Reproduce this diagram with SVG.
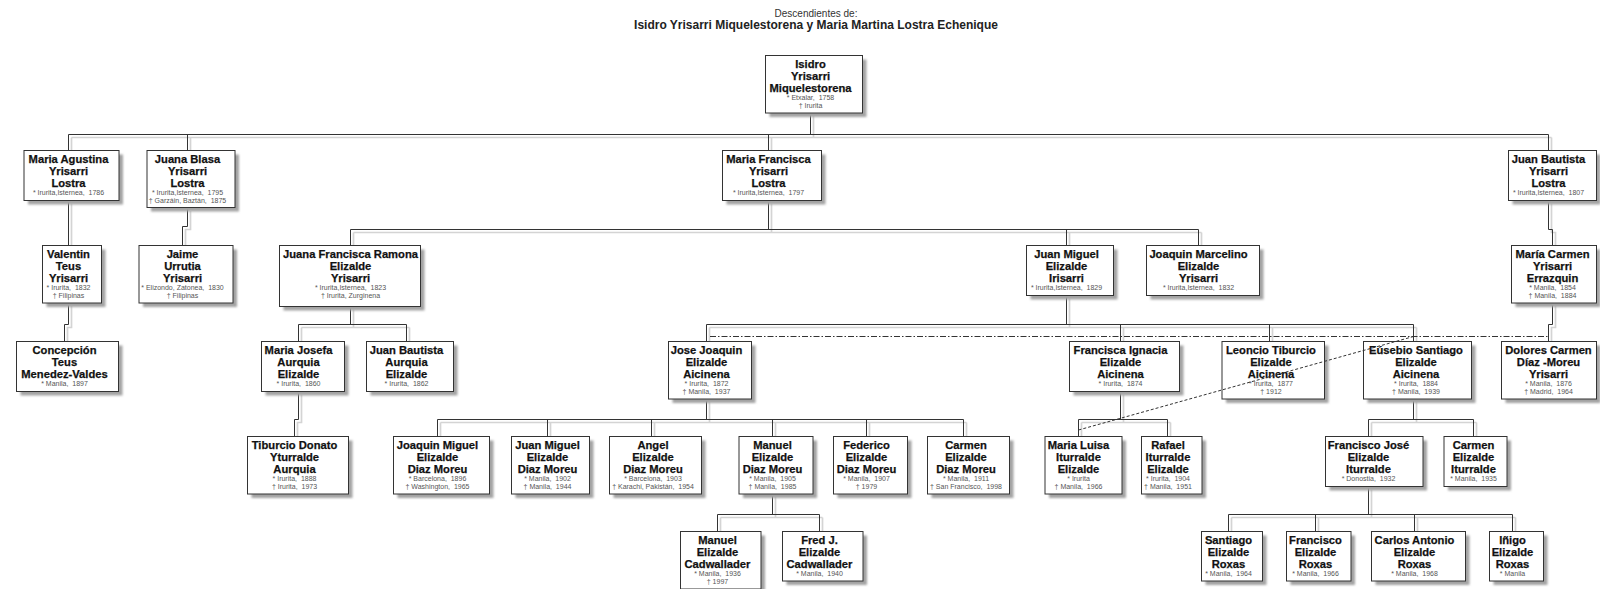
<svg xmlns="http://www.w3.org/2000/svg" width="1600" height="589" viewBox="0 0 1600 589">
<defs>
<filter id="blur" x="-10%" y="-10%" width="120%" height="120%"><feGaussianBlur stdDeviation="0.8"/></filter>
</defs>
<style>
.sh{fill:#a3a3a3;filter:url(#blur)}
.bx{fill:#fff;stroke:#333;stroke-width:1}
.n{font-family:"Liberation Sans",Arial,sans-serif;font-weight:bold;font-size:11.2px;fill:#111;stroke:#111;stroke-width:0.25;text-anchor:middle}
.s{font-family:"Liberation Sans",Arial,sans-serif;font-size:7px;fill:#555;text-anchor:middle}
.c{fill:none;stroke:#333;stroke-width:1}
.cs{fill:none;stroke:#d4d4d4;stroke-width:1.7}
.dd{fill:none;stroke:#333;stroke-width:1;stroke-dasharray:6 2 1.5 2}
.ds{fill:none;stroke:#333;stroke-width:1;stroke-dasharray:3 2}
.t1{font-family:"Liberation Sans",Arial,sans-serif;font-size:10px;fill:#333;text-anchor:middle}
.t2{font-family:"Liberation Sans",Arial,sans-serif;font-weight:bold;font-size:12px;fill:#222;text-anchor:middle}
</style>
<rect width="1600" height="589" fill="#fff"/>
<g id="title">
<text class="t1" x="816" y="16.5">Descendientes de:</text>
<text class="t2" x="816" y="28.7">Isidro Yrisarri Miquelestorena y Maria Martina Lostra Echenique</text>
</g>
<g id="connectors">
<g id="connector-shadows" class="cs" transform="translate(3,3)">
<path d="M810.5 113V134.5M68.5 134.5H1548.5M68.5 134.5V150.5M187.5 134.5V150.5M768.5 134.5V150.5M1548.5 134.5V150.5"/>
<path d="M68.5 200.5V245.5M187.5 208V226.5H182.5V245.5M768.5 200.5V229.5M350.5 229.5H1198.5M350.5 229.5V245.5M1066.5 229.5V245.5M1198.5 229.5V245.5M1548.5 200.5V229.5H1552.5V245.5"/>
<path d="M68.5 303V324.5H64.5V341.5M350.5 306.5V324.5M298.5 324.5H406.5M298.5 324.5V341.5M406.5 324.5V341.5M1066.5 295.5V324.5M706.5 324.5H1413.5M706.5 324.5V341.5M1120.5 324.5V341.5M1269.5 324.5V341.5M1413.5 324.5V341.5M1552.5 303V324.5H1548.5V341.5"/>
<path d="M298.5 391.5V419.5H294.5V436.5M706.5 399V419.5M437.5 419.5H963.5M437.5 419.5V436.5M547.5 419.5V436.5M651.5 419.5V436.5M772.5 419.5V436.5M866.5 419.5V436.5M963.5 419.5V436.5M1120.5 391.5V419.5M1078.5 419.5H1167.5M1078.5 419.5V436.5M1167.5 419.5V436.5M1413.5 399V419.5M1368.5 419.5H1473.5M1368.5 419.5V436.5M1473.5 419.5V436.5"/>
<path d="M772.5 494V514.5M717.5 514.5H819.5M717.5 514.5V531.5M819.5 514.5V531.5M1368.5 486.5V514.5M1228.5 514.5H1512.5M1228.5 514.5V531.5M1315.5 514.5V531.5M1414.5 514.5V531.5M1512.5 514.5V531.5"/>
</g>
<g id="connector-lines" class="c">
<path d="M810.5 113V134.5M68.5 134.5H1548.5M68.5 134.5V150.5M187.5 134.5V150.5M768.5 134.5V150.5M1548.5 134.5V150.5"/>
<path d="M68.5 200.5V245.5M187.5 208V226.5H182.5V245.5M768.5 200.5V229.5M350.5 229.5H1198.5M350.5 229.5V245.5M1066.5 229.5V245.5M1198.5 229.5V245.5M1548.5 200.5V229.5H1552.5V245.5"/>
<path d="M68.5 303V324.5H64.5V341.5M350.5 306.5V324.5M298.5 324.5H406.5M298.5 324.5V341.5M406.5 324.5V341.5M1066.5 295.5V324.5M706.5 324.5H1413.5M706.5 324.5V341.5M1120.5 324.5V341.5M1269.5 324.5V341.5M1413.5 324.5V341.5M1552.5 303V324.5H1548.5V341.5"/>
<path d="M298.5 391.5V419.5H294.5V436.5M706.5 399V419.5M437.5 419.5H963.5M437.5 419.5V436.5M547.5 419.5V436.5M651.5 419.5V436.5M772.5 419.5V436.5M866.5 419.5V436.5M963.5 419.5V436.5M1120.5 391.5V419.5M1078.5 419.5H1167.5M1078.5 419.5V436.5M1167.5 419.5V436.5M1413.5 399V419.5M1368.5 419.5H1473.5M1368.5 419.5V436.5M1473.5 419.5V436.5"/>
<path d="M772.5 494V514.5M717.5 514.5H819.5M717.5 514.5V531.5M819.5 514.5V531.5M1368.5 486.5V514.5M1228.5 514.5H1512.5M1228.5 514.5V531.5M1315.5 514.5V531.5M1414.5 514.5V531.5M1512.5 514.5V531.5"/>
</g>
</g>
<g id="nodes">
<g id="isidro"><rect class="sh" x="769.5" y="59.5" width="97" height="57.5"/><rect class="bx" x="765.5" y="55.5" width="97" height="57.5"/>
<text class="n" x="810.5" y="68">Isidro</text><text class="n" x="810.5" y="79.8">Yrisarri</text><text class="n" x="810.5" y="91.6">Miquelestorena</text>
<text class="s" x="810.5" y="100.1">* Etxalar, &#160;1758</text><text class="s" x="810.5" y="107.6">† Irurita</text></g>

<g id="maria-agustina"><rect class="sh" x="28" y="154.5" width="95" height="50"/><rect class="bx" x="24" y="150.5" width="95" height="50"/>
<text class="n" x="68.5" y="163">Maria Agustina</text><text class="n" x="68.5" y="174.8">Yrisarri</text><text class="n" x="68.5" y="186.6">Lostra</text>
<text class="s" x="68.5" y="195.1">* Irurita,Isternea, &#160;1786</text></g>

<g id="juana-blasa"><rect class="sh" x="151" y="154.5" width="88" height="57"/><rect class="bx" x="147" y="150.5" width="88" height="57"/>
<text class="n" x="187.5" y="163">Juana Blasa</text><text class="n" x="187.5" y="174.8">Yrisarri</text><text class="n" x="187.5" y="186.6">Lostra</text>
<text class="s" x="187.5" y="195.1">* Irurita,Isternea, &#160;1795</text><text class="s" x="187.5" y="202.6">† Garzáin, Baztán, &#160;1875</text></g>

<g id="maria-francisca"><rect class="sh" x="726.5" y="154.5" width="99" height="50"/><rect class="bx" x="722.5" y="150.5" width="99" height="50"/>
<text class="n" x="768.5" y="163">Maria Francisca</text><text class="n" x="768.5" y="174.8">Yrisarri</text><text class="n" x="768.5" y="186.6">Lostra</text>
<text class="s" x="768.5" y="195.1">* Irurita,Isternea, &#160;1797</text></g>

<g id="juan-bautista-yrisarri"><rect class="sh" x="1512.5" y="154.5" width="88" height="50"/><rect class="bx" x="1508.5" y="150.5" width="88" height="50"/>
<text class="n" x="1548.5" y="163">Juan Bautista</text><text class="n" x="1548.5" y="174.8">Yrisarri</text><text class="n" x="1548.5" y="186.6">Lostra</text>
<text class="s" x="1548.5" y="195.1">* Irurita,Isternea, &#160;1807</text></g>

<g id="valentin"><rect class="sh" x="46.5" y="249.5" width="59" height="57.5"/><rect class="bx" x="42.5" y="245.5" width="59" height="57.5"/>
<text class="n" x="68.5" y="258">Valentin</text><text class="n" x="68.5" y="269.8">Teus</text><text class="n" x="68.5" y="281.6">Yrisarri</text>
<text class="s" x="68.5" y="290.1">* Irurita, &#160;1832</text><text class="s" x="68.5" y="297.6">† Filipinas</text></g>

<g id="jaime"><rect class="sh" x="143" y="249.5" width="94" height="57.5"/><rect class="bx" x="139" y="245.5" width="94" height="57.5"/>
<text class="n" x="182.5" y="258">Jaime</text><text class="n" x="182.5" y="269.8">Urrutia</text><text class="n" x="182.5" y="281.6">Yrisarri</text>
<text class="s" x="182.5" y="290.1">* Elizondo, Zatonea, &#160;1830</text><text class="s" x="182.5" y="297.6">† Filipinas</text></g>

<g id="juana-francisca-ramona"><rect class="sh" x="283.5" y="249.5" width="141" height="61"/><rect class="bx" x="279.5" y="245.5" width="141" height="61"/>
<text class="n" x="350.5" y="258">Juana Francisca Ramona</text><text class="n" x="350.5" y="269.8">Elizalde</text><text class="n" x="350.5" y="281.6">Yrisarri</text>
<text class="s" x="350.5" y="290.1">* Irurita,Isternea, &#160;1823</text><text class="s" x="350.5" y="297.6">† Irurita, Zurginena</text></g>

<g id="juan-miguel-irisarri"><rect class="sh" x="1030.5" y="249.5" width="87" height="50"/><rect class="bx" x="1026.5" y="245.5" width="87" height="50"/>
<text class="n" x="1066.5" y="258">Juan Miguel</text><text class="n" x="1066.5" y="269.8">Elizalde</text><text class="n" x="1066.5" y="281.6">Irisarri</text>
<text class="s" x="1066.5" y="290.1">* Irurita,Isternea, &#160;1829</text></g>

<g id="joaquin-marcelino"><rect class="sh" x="1150.5" y="249.5" width="113" height="50"/><rect class="bx" x="1146.5" y="245.5" width="113" height="50"/>
<text class="n" x="1198.5" y="258">Joaquin Marcelino</text><text class="n" x="1198.5" y="269.8">Elizalde</text><text class="n" x="1198.5" y="281.6">Yrisarri</text>
<text class="s" x="1198.5" y="290.1">* Irurita,Isternea, &#160;1832</text></g>

<g id="maria-carmen"><rect class="sh" x="1515.5" y="249.5" width="85" height="57.5"/><rect class="bx" x="1511.5" y="245.5" width="85" height="57.5"/>
<text class="n" x="1552.5" y="258">María Carmen</text><text class="n" x="1552.5" y="269.8">Yrisarri</text><text class="n" x="1552.5" y="281.6">Errazquin</text>
<text class="s" x="1552.5" y="290.1">* Manila, &#160;1854</text><text class="s" x="1552.5" y="297.6">† Manila, &#160;1884</text></g>

<g id="concepcion"><rect class="sh" x="20.5" y="345.5" width="102" height="50"/><rect class="bx" x="16.5" y="341.5" width="102" height="50"/>
<text class="n" x="64.5" y="354">Concepción</text><text class="n" x="64.5" y="365.8">Teus</text><text class="n" x="64.5" y="377.6">Menedez-Valdes</text>
<text class="s" x="64.5" y="386.1">* Manila, &#160;1897</text></g>

<g id="maria-josefa"><rect class="sh" x="265.5" y="345.5" width="83" height="50"/><rect class="bx" x="261.5" y="341.5" width="83" height="50"/>
<text class="n" x="298.5" y="354">Maria Josefa</text><text class="n" x="298.5" y="365.8">Aurquia</text><text class="n" x="298.5" y="377.6">Elizalde</text>
<text class="s" x="298.5" y="386.1">* Irurita, &#160;1860</text></g>

<g id="juan-bautista-aurquia"><rect class="sh" x="370.5" y="345.5" width="87" height="50"/><rect class="bx" x="366.5" y="341.5" width="87" height="50"/>
<text class="n" x="406.5" y="354">Juan Bautista</text><text class="n" x="406.5" y="365.8">Aurquia</text><text class="n" x="406.5" y="377.6">Elizalde</text>
<text class="s" x="406.5" y="386.1">* Irurita, &#160;1862</text></g>

<g id="jose-joaquin"><rect class="sh" x="672.5" y="345.5" width="83" height="57.5"/><rect class="bx" x="668.5" y="341.5" width="83" height="57.5"/>
<text class="n" x="706.5" y="354">Jose Joaquin</text><text class="n" x="706.5" y="365.8">Elizalde</text><text class="n" x="706.5" y="377.6">Aicinena</text>
<text class="s" x="706.5" y="386.1">* Irurita, &#160;1872</text><text class="s" x="706.5" y="393.6">† Manila, &#160;1937</text></g>

<g id="francisca-ignacia"><rect class="sh" x="1073.5" y="345.5" width="110" height="50"/><rect class="bx" x="1069.5" y="341.5" width="110" height="50"/>
<text class="n" x="1120.5" y="354">Francisca Ignacia</text><text class="n" x="1120.5" y="365.8">Elizalde</text><text class="n" x="1120.5" y="377.6">Aicinena</text>
<text class="s" x="1120.5" y="386.1">* Irurita, &#160;1874</text></g>

<g id="leoncio-tiburcio"><rect class="sh" x="1226" y="345.5" width="102.5" height="57.5"/><rect class="bx" x="1222" y="341.5" width="102.5" height="57.5"/>
<text class="n" x="1271" y="354">Leoncio Tiburcio</text><text class="n" x="1271" y="365.8">Elizalde</text><text class="n" x="1271" y="377.6">Aicinena</text>
<text class="s" x="1271" y="386.1">* Irurita, &#160;1877</text><text class="s" x="1271" y="393.6">† 1912</text></g>

<g id="eusebio-santiago"><rect class="sh" x="1367.5" y="345.5" width="108" height="57.5"/><rect class="bx" x="1363.5" y="341.5" width="108" height="57.5"/>
<text class="n" x="1416" y="354">Eúsebio Santiago</text><text class="n" x="1416" y="365.8">Elizalde</text><text class="n" x="1416" y="377.6">Aicinena</text>
<text class="s" x="1416" y="386.1">* Irurita, &#160;1884</text><text class="s" x="1416" y="393.6">† Manila, &#160;1939</text></g>

<g id="dolores-carmen"><rect class="sh" x="1505.5" y="345.5" width="95" height="57.5"/><rect class="bx" x="1501.5" y="341.5" width="95" height="57.5"/>
<text class="n" x="1548.5" y="354">Dolores Carmen</text><text class="n" x="1548.5" y="365.8">Díaz -Moreu</text><text class="n" x="1548.5" y="377.6">Yrisarri</text>
<text class="s" x="1548.5" y="386.1">* Manila, &#160;1876</text><text class="s" x="1548.5" y="393.6">† Madrid, &#160;1964</text></g>

<g id="tiburcio-donato"><rect class="sh" x="251.5" y="440.5" width="101" height="57.5"/><rect class="bx" x="247.5" y="436.5" width="101" height="57.5"/>
<text class="n" x="294.5" y="449">Tiburcio Donato</text><text class="n" x="294.5" y="460.8">Yturralde</text><text class="n" x="294.5" y="472.6">Aurquia</text>
<text class="s" x="294.5" y="481.1">* Irurita, &#160;1888</text><text class="s" x="294.5" y="488.6">† Irurita, &#160;1973</text></g>

<g id="joaquin-miguel"><rect class="sh" x="397.5" y="440.5" width="96" height="57.5"/><rect class="bx" x="393.5" y="436.5" width="96" height="57.5"/>
<text class="n" x="437.5" y="449">Joaquin Miguel</text><text class="n" x="437.5" y="460.8">Elizalde</text><text class="n" x="437.5" y="472.6">Diaz Moreu</text>
<text class="s" x="437.5" y="481.1">* Barcelona, &#160;1896</text><text class="s" x="437.5" y="488.6">† Washington, &#160;1965</text></g>

<g id="juan-miguel-diaz-moreu"><rect class="sh" x="515.5" y="440.5" width="78" height="57.5"/><rect class="bx" x="511.5" y="436.5" width="78" height="57.5"/>
<text class="n" x="547.5" y="449">Juan Miguel</text><text class="n" x="547.5" y="460.8">Elizalde</text><text class="n" x="547.5" y="472.6">Diaz Moreu</text>
<text class="s" x="547.5" y="481.1">* Manila, &#160;1902</text><text class="s" x="547.5" y="488.6">† Manila, &#160;1944</text></g>

<g id="angel"><rect class="sh" x="613.5" y="440.5" width="92" height="57.5"/><rect class="bx" x="609.5" y="436.5" width="92" height="57.5"/>
<text class="n" x="653" y="449">Angel</text><text class="n" x="653" y="460.8">Elizalde</text><text class="n" x="653" y="472.6">Diaz Moreu</text>
<text class="s" x="653" y="481.1">* Barcelona, &#160;1903</text><text class="s" x="653" y="488.6">† Karachi, Pakistán, &#160;1954</text></g>

<g id="manuel-diaz-moreu"><rect class="sh" x="743" y="440.5" width="74" height="57.5"/><rect class="bx" x="739" y="436.5" width="74" height="57.5"/>
<text class="n" x="772.5" y="449">Manuel</text><text class="n" x="772.5" y="460.8">Elizalde</text><text class="n" x="772.5" y="472.6">Diaz Moreu</text>
<text class="s" x="772.5" y="481.1">* Manila, &#160;1905</text><text class="s" x="772.5" y="488.6">† Manila, &#160;1985</text></g>

<g id="federico"><rect class="sh" x="837.5" y="440.5" width="74" height="57.5"/><rect class="bx" x="833.5" y="436.5" width="74" height="57.5"/>
<text class="n" x="866.5" y="449">Federico</text><text class="n" x="866.5" y="460.8">Elizalde</text><text class="n" x="866.5" y="472.6">Diaz Moreu</text>
<text class="s" x="866.5" y="481.1">* Manila, &#160;1907</text><text class="s" x="866.5" y="488.6">† 1979</text></g>

<g id="carmen-diaz-moreu"><rect class="sh" x="931.5" y="440.5" width="82" height="57.5"/><rect class="bx" x="927.5" y="436.5" width="82" height="57.5"/>
<text class="n" x="966" y="449">Carmen</text><text class="n" x="966" y="460.8">Elizalde</text><text class="n" x="966" y="472.6">Diaz Moreu</text>
<text class="s" x="966" y="481.1">* Manila, &#160;1911</text><text class="s" x="966" y="488.6">† San Francisco, &#160;1998</text></g>

<g id="maria-luisa"><rect class="sh" x="1049" y="440.5" width="77" height="57.5"/><rect class="bx" x="1045" y="436.5" width="77" height="57.5"/>
<text class="n" x="1078.5" y="449">Maria Luisa</text><text class="n" x="1078.5" y="460.8">Iturralde</text><text class="n" x="1078.5" y="472.6">Elizalde</text>
<text class="s" x="1078.5" y="481.1">* Irurita</text><text class="s" x="1078.5" y="488.6">† Manila, &#160;1966</text></g>

<g id="rafael"><rect class="sh" x="1145.5" y="440.5" width="60.5" height="57.5"/><rect class="bx" x="1141.5" y="436.5" width="60.5" height="57.5"/>
<text class="n" x="1168" y="449">Rafael</text><text class="n" x="1168" y="460.8">Iturralde</text><text class="n" x="1168" y="472.6">Elizalde</text>
<text class="s" x="1168" y="481.1">* Irurita, &#160;1904</text><text class="s" x="1168" y="488.6">† Manila, &#160;1951</text></g>

<g id="francisco-jose"><rect class="sh" x="1329.5" y="440.5" width="97.5" height="50"/><rect class="bx" x="1325.5" y="436.5" width="97.5" height="50"/>
<text class="n" x="1368.5" y="449">Francisco José</text><text class="n" x="1368.5" y="460.8">Elizalde</text><text class="n" x="1368.5" y="472.6">Iturralde</text>
<text class="s" x="1368.5" y="481.1">* Donostia, &#160;1932</text></g>

<g id="carmen-iturralde"><rect class="sh" x="1448" y="440.5" width="63" height="50"/><rect class="bx" x="1444" y="436.5" width="63" height="50"/>
<text class="n" x="1473.5" y="449">Carmen</text><text class="n" x="1473.5" y="460.8">Elizalde</text><text class="n" x="1473.5" y="472.6">Iturralde</text>
<text class="s" x="1473.5" y="481.1">* Manila, &#160;1935</text></g>

<g id="manuel-cadwallader"><rect class="sh" x="684.5" y="535.5" width="80.5" height="57.5"/><rect class="bx" x="680.5" y="531.5" width="80.5" height="57.5"/>
<text class="n" x="717.5" y="544">Manuel</text><text class="n" x="717.5" y="555.8">Elizalde</text><text class="n" x="717.5" y="567.6">Cadwallader</text>
<text class="s" x="717.5" y="576.1">* Manila, &#160;1936</text><text class="s" x="717.5" y="583.6">† 1997</text></g>

<g id="fred-j"><rect class="sh" x="786.5" y="535.5" width="80.5" height="49.5"/><rect class="bx" x="782.5" y="531.5" width="80.5" height="49.5"/>
<text class="n" x="819.5" y="544">Fred J.</text><text class="n" x="819.5" y="555.8">Elizalde</text><text class="n" x="819.5" y="567.6">Cadwallader</text>
<text class="s" x="819.5" y="576.1">* Manila, &#160;1940</text></g>

<g id="santiago"><rect class="sh" x="1205.5" y="535.5" width="61" height="49.5"/><rect class="bx" x="1201.5" y="531.5" width="61" height="49.5"/>
<text class="n" x="1228.5" y="544">Santiago</text><text class="n" x="1228.5" y="555.8">Elizalde</text><text class="n" x="1228.5" y="567.6">Roxas</text>
<text class="s" x="1228.5" y="576.1">* Manila, &#160;1964</text></g>

<g id="francisco-roxas"><rect class="sh" x="1290.5" y="535.5" width="64.5" height="49.5"/><rect class="bx" x="1286.5" y="531.5" width="64.5" height="49.5"/>
<text class="n" x="1315.5" y="544">Francisco</text><text class="n" x="1315.5" y="555.8">Elizalde</text><text class="n" x="1315.5" y="567.6">Roxas</text>
<text class="s" x="1315.5" y="576.1">* Manila, &#160;1966</text></g>

<g id="carlos-antonio"><rect class="sh" x="1375.5" y="535.5" width="94" height="49.5"/><rect class="bx" x="1371.5" y="531.5" width="94" height="49.5"/>
<text class="n" x="1414.5" y="544">Carlos Antonio</text><text class="n" x="1414.5" y="555.8">Elizalde</text><text class="n" x="1414.5" y="567.6">Roxas</text>
<text class="s" x="1414.5" y="576.1">* Manila, &#160;1968</text></g>

<g id="inigo"><rect class="sh" x="1493.5" y="535.5" width="54" height="49.5"/><rect class="bx" x="1489.5" y="531.5" width="54" height="49.5"/>
<text class="n" x="1512.5" y="544">Iñigo</text><text class="n" x="1512.5" y="555.8">Elizalde</text><text class="n" x="1512.5" y="567.6">Roxas</text>
<text class="s" x="1512.5" y="576.1">* Manila</text></g>
</g>
<g id="marriage-links">
<path class="dd" d="M710 336.5H1548.5"/>
<path class="ds" d="M1078.5 430L1413.5 336.5"/>
</g>
</svg>
